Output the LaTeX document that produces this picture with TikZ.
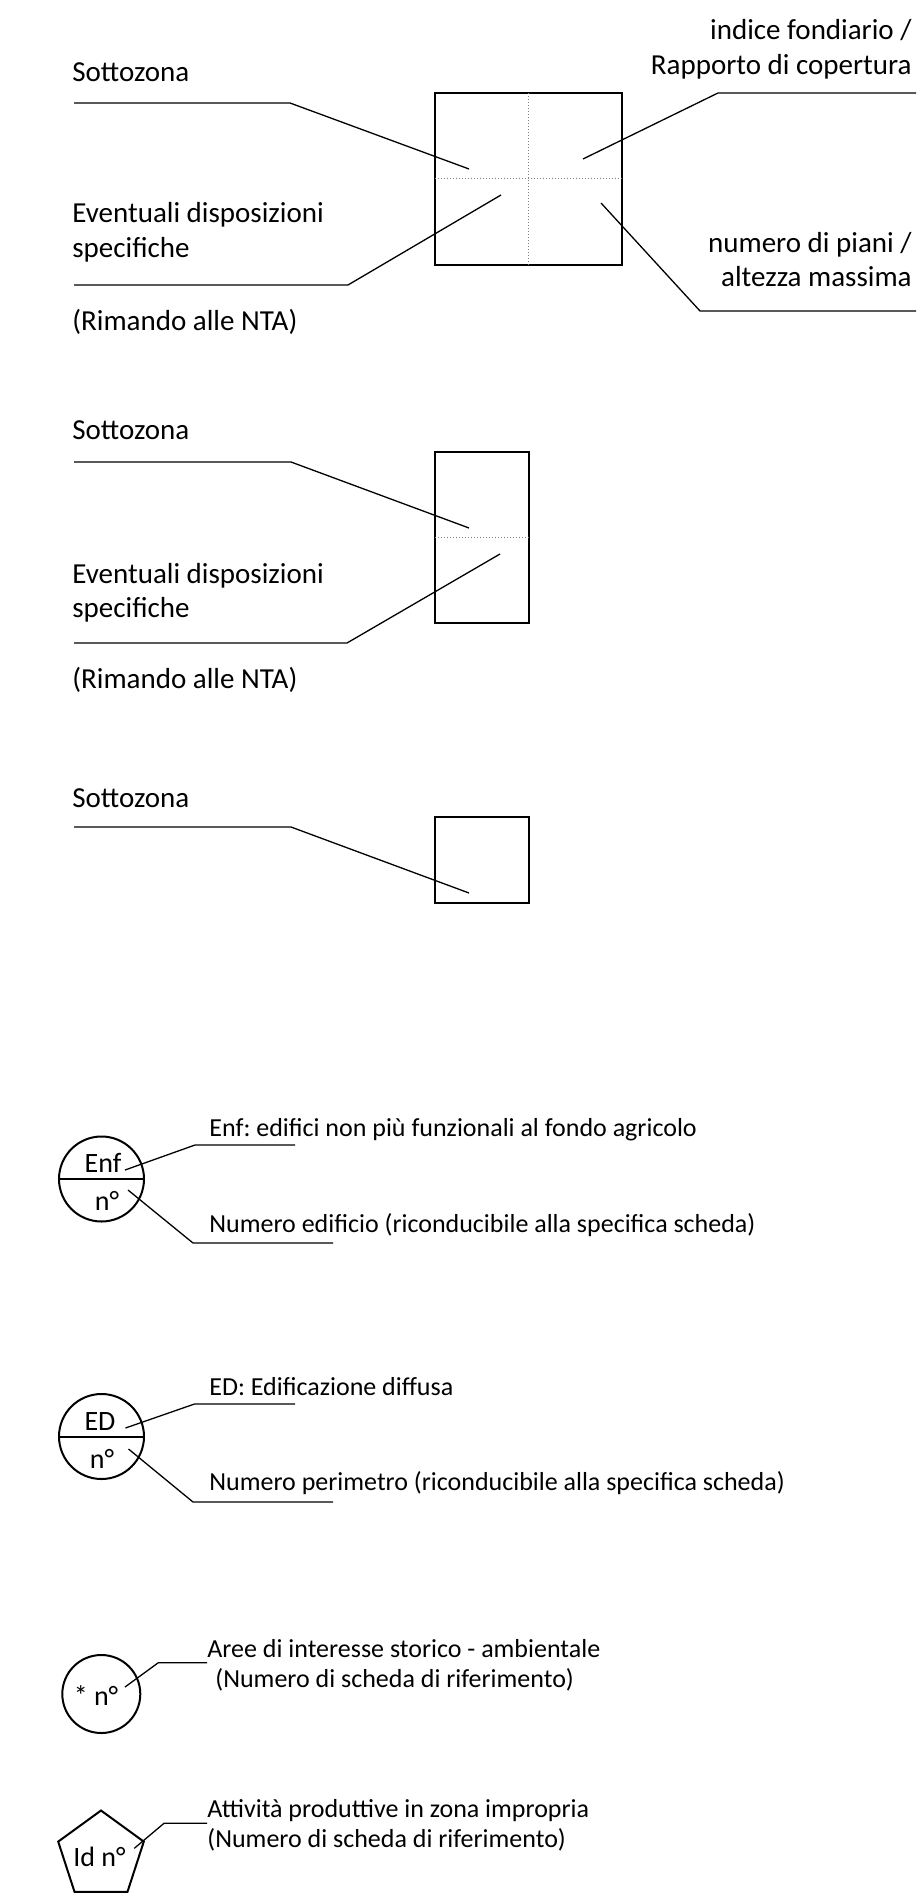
\documentclass[tikz,border=0pt]{standalone}
\usepackage{fontspec}
\setmainfont{Carlito}
\usetikzlibrary{shapes.geometric}
\frenchspacing

\begin{document}
\begin{tikzpicture}[
    x=0.5pt, y=-0.5pt,
    bigtext/.style={
        inner sep=0pt,
        font=\fontsize{14.5}{17}\selectfont
    },
    smalltext/.style={
        inner sep=0pt,
        font=\fontsize{13}{16}\selectfont
    },
    symtext/.style={
        inner sep=0pt,
        anchor=base,
        font=\fontsize{14}{16}\selectfont
    },
    zonebox/.style={
        draw,
        line width=1.2pt,
        inner sep=0pt,
        outer sep=0pt
    },
    symbol/.style={
        draw,
        line width=1pt,
        inner sep=0pt,
        outer sep=0pt
    },
    leader/.style={line width=0.65pt},
    divline/.style={gray, line width=0.5pt, dash pattern=on 0.5pt off 1pt}
]

\useasboundingbox (0,0) rectangle (923,1893);

% Zone label, full form (4 fields)
\node[zonebox, minimum width=93.5pt, minimum height=86pt] (box1) at (528.5,179) {};
\draw[divline] (box1.north) -- (box1.south);
\draw[divline] (box1.west) -- (box1.east);

\node[bigtext, anchor=base east] (ifond) at (912,39.5) {indice fondiario /};
\node[bigtext, anchor=base east] (rcop) at (912,75) {Rapporto di copertura};
\node[bigtext, anchor=base west] (sz1) at (72,82) {Sottozona};
\node[bigtext, anchor=base west] (ev1) at (72,223) {Eventuali disposizioni};
\node[bigtext, anchor=base west] (sp1) at (72,258) {specifiche};
\node[bigtext, anchor=base west] (nta1) at (72,331) {(Rimando alle NTA)};
\node[bigtext, anchor=base east] (npiani) at (912,253) {numero di piani /};
\node[bigtext, anchor=base east] (hmax) at (912,287) {altezza massima};

\coordinate (sz1a) at (74,103);  \coordinate (sz1b) at (290,103);  \coordinate (sz1c) at (469,169);
\coordinate (if1a) at (916,93);  \coordinate (if1b) at (718,93);   \coordinate (if1c) at (583,159);
\coordinate (ev1a) at (74,285);  \coordinate (ev1b) at (348,285);  \coordinate (ev1c) at (501,195);
\coordinate (np1a) at (916,311); \coordinate (np1b) at (700,311);  \coordinate (np1c) at (601,203);
\draw[leader] (sz1a) -- (sz1b) -- (sz1c);
\draw[leader] (if1a) -- (if1b) -- (if1c);
\draw[leader] (ev1a) -- (ev1b) -- (ev1c);
\draw[leader] (np1a) -- (np1b) -- (np1c);

% Zone label, two fields
\node[zonebox, minimum width=47pt, minimum height=85.5pt] (box2) at (482,537.5) {};
\draw[divline] (box2.west) -- (box2.east);

\node[bigtext, anchor=base west] (sz2) at (72,440) {Sottozona};
\node[bigtext, anchor=base west] (ev2) at (72,583) {Eventuali disposizioni};
\node[bigtext, anchor=base west] (sp2) at (72,617) {specifiche};
\node[bigtext, anchor=base west] (nta2) at (72,688) {(Rimando alle NTA)};

\coordinate (sz2a) at (74,462);  \coordinate (sz2b) at (291,462);  \coordinate (sz2c) at (469,528);
\coordinate (ev2a) at (74,643);  \coordinate (ev2b) at (347,643);  \coordinate (ev2c) at (500,554);
\draw[leader] (sz2a) -- (sz2b) -- (sz2c);
\draw[leader] (ev2a) -- (ev2b) -- (ev2c);

% Zone label, one field
\node[zonebox, minimum width=47pt, minimum height=43pt] (box3) at (482,860) {};
\node[bigtext, anchor=base west] (sz3) at (72,807) {Sottozona};

\coordinate (sz3a) at (74,827);  \coordinate (sz3b) at (291,827);  \coordinate (sz3c) at (469,893);
\draw[leader] (sz3a) -- (sz3b) -- (sz3c);

% Enf symbol
\node[symbol, circle, minimum size=42.5pt] (enf) at (101.5,1179) {};
\draw[symbol] (enf.west) -- (enf.east);
\node[symtext] (enfname) at (103,1172) {Enf};
\node[symtext] (enfnum) at (107,1210) {n°};

\node[smalltext, anchor=base west] (enftxt) at (209,1136) {Enf: edifici non più funzionali al fondo agricolo};
\node[smalltext, anchor=base west] (enfnumtxt) at (209,1232) {Numero edificio (riconducibile alla specifica scheda)};

\coordinate (enf1a) at (125,1170); \coordinate (enf1b) at (195,1145); \coordinate (enf1c) at (295,1145);
\coordinate (enf2a) at (128,1190); \coordinate (enf2b) at (193,1243); \coordinate (enf2c) at (333,1243);
\draw[leader] (enf1a) -- (enf1b) -- (enf1c);
\draw[leader] (enf2a) -- (enf2b) -- (enf2c);

% ED symbol
\node[symbol, circle, minimum size=42.5pt] (ed) at (101.5,1436.5) {};
\draw[symbol] (ed.west) -- (ed.east);
\node[symtext] (edname) at (100,1430) {ED};
\node[symtext] (ednum) at (102,1468) {n°};

\node[smalltext, anchor=base west] (edtxt) at (209,1395) {ED: Edificazione diffusa};
\node[smalltext, anchor=base west] (ednumtxt) at (209,1490) {Numero perimetro (riconducibile alla specifica scheda)};

\coordinate (ed1a) at (125.5,1428); \coordinate (ed1b) at (194.5,1404); \coordinate (ed1c) at (295,1404);
\coordinate (ed2a) at (128.5,1449); \coordinate (ed2b) at (193,1502);   \coordinate (ed2c) at (333,1502);
\draw[leader] (ed1a) -- (ed1b) -- (ed1c);
\draw[leader] (ed2a) -- (ed2b) -- (ed2c);

% Historic area symbol
\node[symbol, circle, minimum size=39pt] (hist) at (101.3,1694) {};
\node[symtext] (histnum) at (96,1705) {* n°};

\node[smalltext, anchor=base west] (histtxt) at (207,1657) {Aree di interesse storico - ambientale};
\node[smalltext, anchor=base west] (histref) at (215,1687) {(Numero di scheda di riferimento)};

\coordinate (hista) at (125,1687); \coordinate (histb) at (158.3,1662.7); \coordinate (histc) at (207,1662.7);
\draw[leader] (hista) -- (histb) -- (histc);

% Productive activity symbol
\node[symbol, regular polygon, regular polygon sides=5, minimum size=45pt] (prod) at (101,1855.5) {};
\node[symtext] (prodnum) at (99.5,1866.7) {Id n°};

\node[smalltext, anchor=base west] (prodtxt) at (207,1817) {Attività produttive in zona impropria};
\node[smalltext, anchor=base west] (prodref) at (207,1847) {(Numero di scheda di riferimento)};

\coordinate (proda) at (134.3,1848.3); \coordinate (prodb) at (164,1823.3); \coordinate (prodc) at (207,1823.3);
\draw[leader] (proda) -- (prodb) -- (prodc);

\end{tikzpicture}
\end{document}
